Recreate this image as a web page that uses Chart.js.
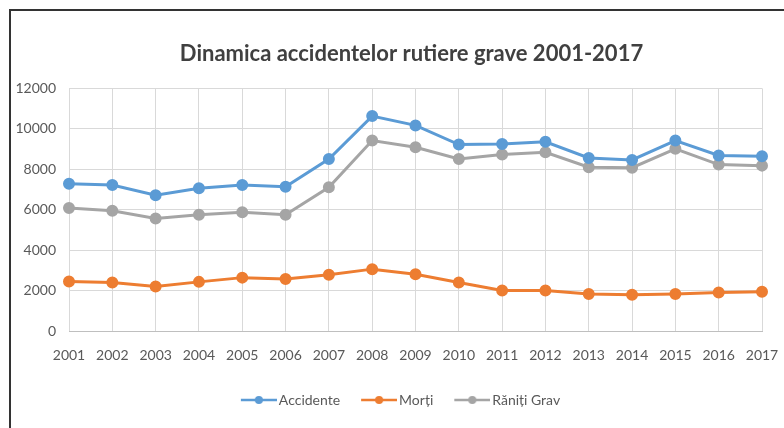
<!DOCTYPE html>
<html>
<head>
<meta charset="utf-8">
<script src="https://cdn.jsdelivr.net/npm/chart.js@4"></script>
<style>
  body { margin: 0; background: #fff; }
  #frame {
    position: absolute; left: 9px; top: 9px; width: 775px; height: 419px;
    border-top: 2px solid #333; border-left: 2px solid #333;
  }
  #wrap { position: absolute; left: 0; top: 0; width: 773px; height: 417px; }
</style>
</head>
<body>
<div id="frame"><div id="wrap"><canvas id="chart"></canvas></div></div>
<script>
const years = ['2001', '2002', '2003', '2004', '2005', '2006', '2007', '2008', '2009',
  '2010', '2011', '2012', '2013', '2014', '2015', '2016', '2017'];
const accidente = [7280, 7220, 6720, 7060, 7220, 7130, 8510, 10630, 10170,
  9220, 9250, 9360, 8560, 8460, 9420, 8680, 8640];
const morti = [2450, 2400, 2200, 2430, 2640, 2570, 2780, 3060, 2810,
  2400, 2000, 2000, 1830, 1790, 1830, 1900, 1940];
const ranitiGrav = [6080, 5950, 5570, 5750, 5870, 5750, 7110, 9420, 9090,
  8510, 8730, 8840, 8100, 8080, 9010, 8230, 8180];
const yTicks = [0, 2000, 4000, 6000, 8000, 10000, 12000];
const titleText = 'Dinamica accidentelor rutiere grave 2001-2017';

const colors = ['#5b9bd5', '#ed7d31', '#a5a5a5'];

// legend icon: short line with a dot in the middle (drawn right-shifted so the text sits close)
function legendIcon(color) {
  const c = document.createElement('canvas');
  c.width = 42; c.height = 10;
  const g = c.getContext('2d');
  g.strokeStyle = color;
  g.lineWidth = 2.5;
  g.beginPath(); g.moveTo(6, 5); g.lineTo(42, 5); g.stroke();
  g.fillStyle = color;
  g.beginPath(); g.arc(24, 5, 4, 0, Math.PI * 2); g.fill();
  return c;
}
const icons = colors.map(legendIcon);

function series(label, data, color) {
  return {
    label: label,
    data: data,
    borderColor: color,
    backgroundColor: color,
    borderWidth: 3,
    pointRadius: 4.5,
    pointHoverRadius: 5,
    tension: 0,
    fill: false,
  };
}

// title is centred over the plot area, not the whole canvas
const centredTitle = {
  id: 'centredTitle',
  afterDraw: function (chart) {
    const t = chart.titleBlock;
    const g = chart.ctx;
    g.save();
    g.fillStyle = '#404040';
    g.font = 'bold 22px Lato';
    g.textAlign = 'center';
    g.textBaseline = 'middle';
    g.fillText(titleText, (chart.chartArea.left + chart.chartArea.right) / 2 - 4, (t.top + t.bottom) / 2);
    g.restore();
  }
};

const ctx = document.getElementById('chart').getContext('2d');
new Chart(ctx, {
  type: 'line',
  data: {
    labels: years,
    datasets: [
      series('Accidente', accidente, colors[0]),
      series('Morți', morti, colors[1]),
      series('Răniți Grav', ranitiGrav, colors[2]),
    ]
  },
  plugins: [centredTitle],
  options: {
    responsive: true,
    maintainAspectRatio: false,
    animation: false,
    layout: { padding: { left: 5, right: 0, top: 8, bottom: 11 } },
    plugins: {
      title: {
        display: true,
        text: titleText,
        color: 'rgba(0,0,0,0)',
        font: { family: 'Lato', size: 22, weight: 'bold' },
        padding: { top: 8, bottom: 35 },
      },
      legend: {
        position: 'bottom',
        labels: {
          usePointStyle: true,
          pointStyleWidth: 32,
          color: '#595959',
          font: { family: 'Lato', size: 14 },
          padding: 20,
          generateLabels: function (chart) {
            const items = Chart.defaults.plugins.legend.labels.generateLabels(chart);
            items.forEach(function (it, i) { it.pointStyle = icons[i]; });
            return items;
          }
        }
      },
      tooltip: { enabled: false },
    },
    scales: {
      x: {
        offset: false,
        grid: { color: '#d9d9d9', drawTicks: false },
        border: { color: '#bfbfbf' },
        ticks: { color: '#595959', font: { family: 'Lato', size: 14 }, padding: 16, maxRotation: 0, autoSkip: false },
        afterFit: function (axis) { axis.height = 42; axis.paddingRight = 22; },
      },
      y: {
        min: 0,
        max: 12000,
        afterBuildTicks: function (axis) { axis.ticks = yTicks.map(function (v) { return { value: v }; }); },
        grid: { color: '#d9d9d9', drawTicks: false },
        border: { display: false },
        ticks: {
          color: '#595959', font: { family: 'Lato', size: 14 }, padding: 13,
          callback: function (v) { return String(v); }
        },
        afterFit: function (axis) { axis.width = 53; },
      },
    },
  },
});
</script>
</body>
</html>
